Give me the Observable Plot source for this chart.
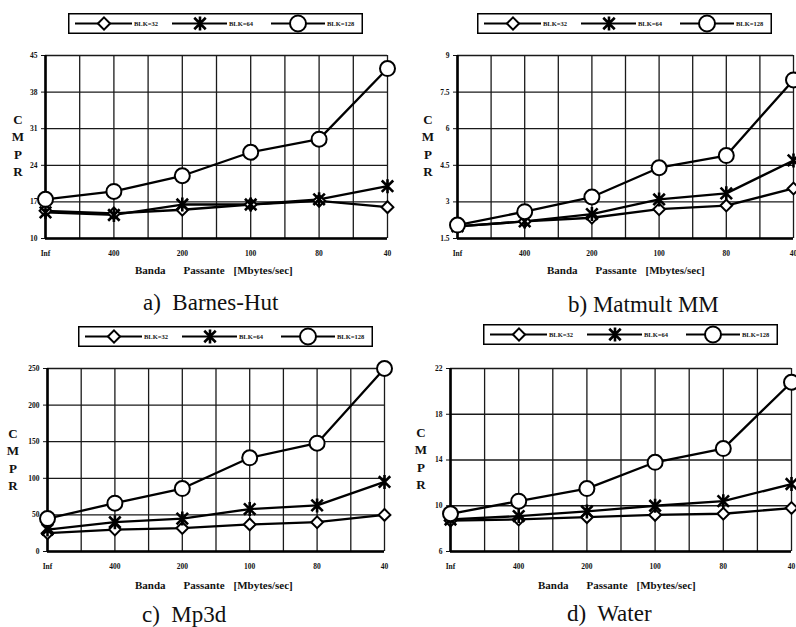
<!DOCTYPE html>
<html><head><meta charset="utf-8">
<script src="https://cdn.jsdelivr.net/npm/d3@7"></script>
<script src="https://cdn.jsdelivr.net/npm/@observablehq/plot@0.6"></script>
<style>
body{margin:0;background:#fff;}
#root{position:relative;width:796px;height:627px;overflow:hidden;background:#fff;}
.panel{position:absolute;width:398px;height:313px;}
.panel svg.plotsvg{position:absolute;left:0;top:40px;}
.legend{position:absolute;height:21px;width:295px;}
.ylab{position:absolute;font:bold 13px "Liberation Serif",serif;line-height:17.3px;text-align:center;width:14px;color:#111;}
.xtitle{position:absolute;font:bold 11px "Liberation Serif",serif;white-space:nowrap;color:#111;}
.xtitle span+span{margin-left:18px;}
.xtitle span.br{margin-left:9px;}
.caption{position:absolute;font:23px "Liberation Serif",serif;white-space:pre;color:#111;line-height:26px;}
</style></head>
<body><div id="root"></div>
<script>
// ---------- data ----------
const xLabels = ["Inf", "400", "200", "100", "80", "40"];
const seriesNames = ["BLK=32", "BLK=64", "BLK=128"];
const captions = ["a)  Barnes-Hut", "b) Matmult MM", "c)  Mp3d", "d)  Water"];
const yLetters = ["C", "M", "P", "R"];
const xTitleWords = ["Banda", "Passante", "[Mbytes/sec]"];

const barnesHut32  = [15.3, 14.8, 15.5, 16.5, 17.2, 16.0];
const barnesHut64  = [15.0, 14.5, 16.5, 16.5, 17.5, 20.0];
const barnesHut128 = [17.5, 19.0, 22.0, 26.5, 29.0, 42.5];
const barnesHutTicks = [10, 17, 24, 31, 38, 45];

const matmult32  = [2.0, 2.2, 2.35, 2.7, 2.85, 3.55];
const matmult64  = [2.0, 2.2, 2.5, 3.1, 3.35, 4.7];
const matmult128 = [2.05, 2.6, 3.2, 4.4, 4.9, 8.0];
const matmultTicks = [1.5, 3, 4.5, 6, 7.5, 9];

const mp3d32  = [25, 30, 32, 37, 40, 50];
const mp3d64  = [30, 40, 45, 58, 63, 95];
const mp3d128 = [45, 66, 86, 128, 148, 250];
const mp3dTicks = [0, 50, 100, 150, 200, 250];

const water32  = [8.7, 8.8, 9.0, 9.2, 9.3, 9.8];
const water64  = [8.8, 9.1, 9.5, 10.0, 10.4, 11.9];
const water128 = [9.3, 10.4, 11.5, 13.8, 15.0, 20.8];
const waterTicks = [6, 10, 14, 18, 22];

const gridSteps = [0, 0.5, 1, 1.5, 2, 2.5, 3, 3.5, 4, 4.5, 5];
const xIndex = [0, 1, 2, 3, 4, 5];

// ---------- layout ----------
const panels = [
  {series: [barnesHut32, barnesHut64, barnesHut128], ticks: barnesHutTicks,
   left: 0, top: 0, mL: 45, mR: 11, lgL: 68, lgT: 13, ylX: 11, ylT: 111, xtL: 135, xtT: 264, capL: 143, capT: 290},
  {series: [matmult32, matmult64, matmult128], ticks: matmultTicks,
   left: 398, top: 0, mL: 59, mR: 3, lgL: 79, lgT: 13, ylX: 23, ylT: 111, xtL: 149, xtT: 264, capL: 170, capT: 292},
  {series: [mp3d32, mp3d64, mp3d128], ticks: mp3dTicks,
   left: 0, top: 313, mL: 47, mR: 14, lgL: 78, lgT: 13, ylX: 6, ylT: 112, xtL: 135, xtT: 266, capL: 142, capT: 289},
  {series: [water32, water64, water128], ticks: waterTicks,
   left: 398, top: 313, mL: 52, mR: 5, lgL: 85, lgT: 11, ylX: 16, ylT: 111, xtL: 140, xtT: 266, capL: 169, capT: 288}
];

const starSymbol = {
  draw(ctx, size) {
    const r = Math.sqrt(size / Math.PI) * 1.0;
    const d = r * 0.82;
    ctx.moveTo(0, -r); ctx.lineTo(0, r);
    ctx.moveTo(-d, -d); ctx.lineTo(d, d);
    ctx.moveTo(-d, d); ctx.lineTo(d, -d);
  }
};

function legendSVG() {
  const ns = "http://www.w3.org/2000/svg";
  const svg = d3.create("svg").attr("width", 295).attr("height", 21);
  svg.append("rect").attr("x", 0.75).attr("y", 0.75).attr("width", 293.5).attr("height", 19.5)
    .attr("fill", "#fff").attr("stroke", "#000").attr("stroke-width", 1.5);
  const items = [
    {x0: 7, cx: 36, x1: 64, tx: 66, sym: d3.symbolDiamond2, size: 95},
    {x0: 104, cx: 132, x1: 159, tx: 161, sym: starSymbol, size: Math.PI * 49},
    {x0: 203, cx: 230, x1: 257, tx: 259, sym: d3.symbolCircle, size: Math.PI * 64}
  ];
  items.forEach((it, i) => {
    svg.append("line").attr("x1", it.x0).attr("x2", it.x1).attr("y1", 10.5).attr("y2", 10.5)
      .attr("stroke", "#000").attr("stroke-width", 2);
    const isStar = it.sym === starSymbol;
    svg.append("path").attr("d", d3.symbol(it.sym, it.size)())
      .attr("transform", `translate(${it.cx},10.5)`)
      .attr("fill", isStar ? "none" : "#fff").attr("stroke", "#000").attr("stroke-width", isStar ? 2.6 : 2);
    svg.append("text").attr("x", it.tx).attr("y", 12.8).text(seriesNames[i])
      .attr("font-family", '"Liberation Serif",serif').attr("font-weight", "bold").attr("font-size", 6.5).attr("fill", "#111");
  });
  return svg.node();
}

const root = document.getElementById("root");

panels.forEach((p, k) => {
  const div = document.createElement("div");
  div.className = "panel";
  div.style.left = p.left + "px";
  div.style.top = p.top + "px";
  root.appendChild(div);

  // legend
  const lg = document.createElement("div");
  lg.className = "legend";
  lg.style.left = p.lgL + "px";
  lg.style.top = p.lgT + "px";
  lg.appendChild(legendSVG());
  div.appendChild(lg);

  // data table
  const rows = [];
  p.series.forEach((vals, s) => vals.forEach((v, i) => rows.push({i, v, s: seriesNames[s]})));
  const bySeries = name => rows.filter(r => r.s === name);
  const yDomain = [p.ticks[0], p.ticks[p.ticks.length - 1]];

  const chart = Plot.plot({
    width: 398, height: 245,
    marginTop: 15, marginBottom: 47, marginLeft: p.mL, marginRight: p.mR,
    style: {fontFamily: '"Liberation Serif",serif', fontSize: "7.5px", fontWeight: "bold", background: "transparent", overflow: "visible", color: "#111"},
    x: {domain: [0, 5], ticks: xIndex, tickFormat: i => xLabels[i], tickSize: 0, tickPadding: 12, label: null},
    y: {domain: yDomain, ticks: p.ticks, tickFormat: d => String(d), tickSize: 4, tickPadding: 4, label: null},
    marks: [
      Plot.ruleX(gridSteps, {stroke: "#1a1a1a", strokeWidth: 1.3}),
      Plot.ruleY(p.ticks, {stroke: "#1a1a1a", strokeWidth: 1.3}),
      Plot.ruleX([0], {stroke: "#000", strokeWidth: 2.6}),
      Plot.ruleY([yDomain[0]], {stroke: "#000", strokeWidth: 2.6}),
      Plot.line(rows, {x: "i", y: "v", z: "s", stroke: "#000", strokeWidth: 2.3}),
      Plot.dot(bySeries("BLK=32"), {x: "i", y: "v", symbol: "diamond2", r: 5.3, fill: "#fff", stroke: "#000", strokeWidth: 2}),
      Plot.dot(bySeries("BLK=64"), {x: "i", y: "v", symbol: starSymbol, r: 7, fill: "none", stroke: "#000", strokeWidth: 2.6}),
      Plot.dot(bySeries("BLK=128"), {x: "i", y: "v", symbol: "circle", r: 7.5, fill: "#fff", stroke: "#000", strokeWidth: 2})
    ]
  });
  chart.classList.add("plotsvg");
  div.appendChild(chart);

  // y label
  const yl = document.createElement("div");
  yl.className = "ylab";
  yl.style.left = p.ylX + "px";
  yl.style.top = p.ylT + "px";
  yl.innerHTML = yLetters.join("<br>");
  div.appendChild(yl);

  // x title
  const xt = document.createElement("div");
  xt.className = "xtitle";
  xt.style.left = p.xtL + "px";
  xt.style.top = p.xtT + "px";
  xt.innerHTML = `<span>${xTitleWords[0]}</span><span>${xTitleWords[1]}</span><span class="br">${xTitleWords[2]}</span>`;
  div.appendChild(xt);

  // caption
  const cap = document.createElement("div");
  cap.className = "caption";
  cap.style.left = p.capL + "px";
  cap.style.top = p.capT + "px";
  cap.textContent = captions[k];
  div.appendChild(cap);
});
</script>
</body></html>
